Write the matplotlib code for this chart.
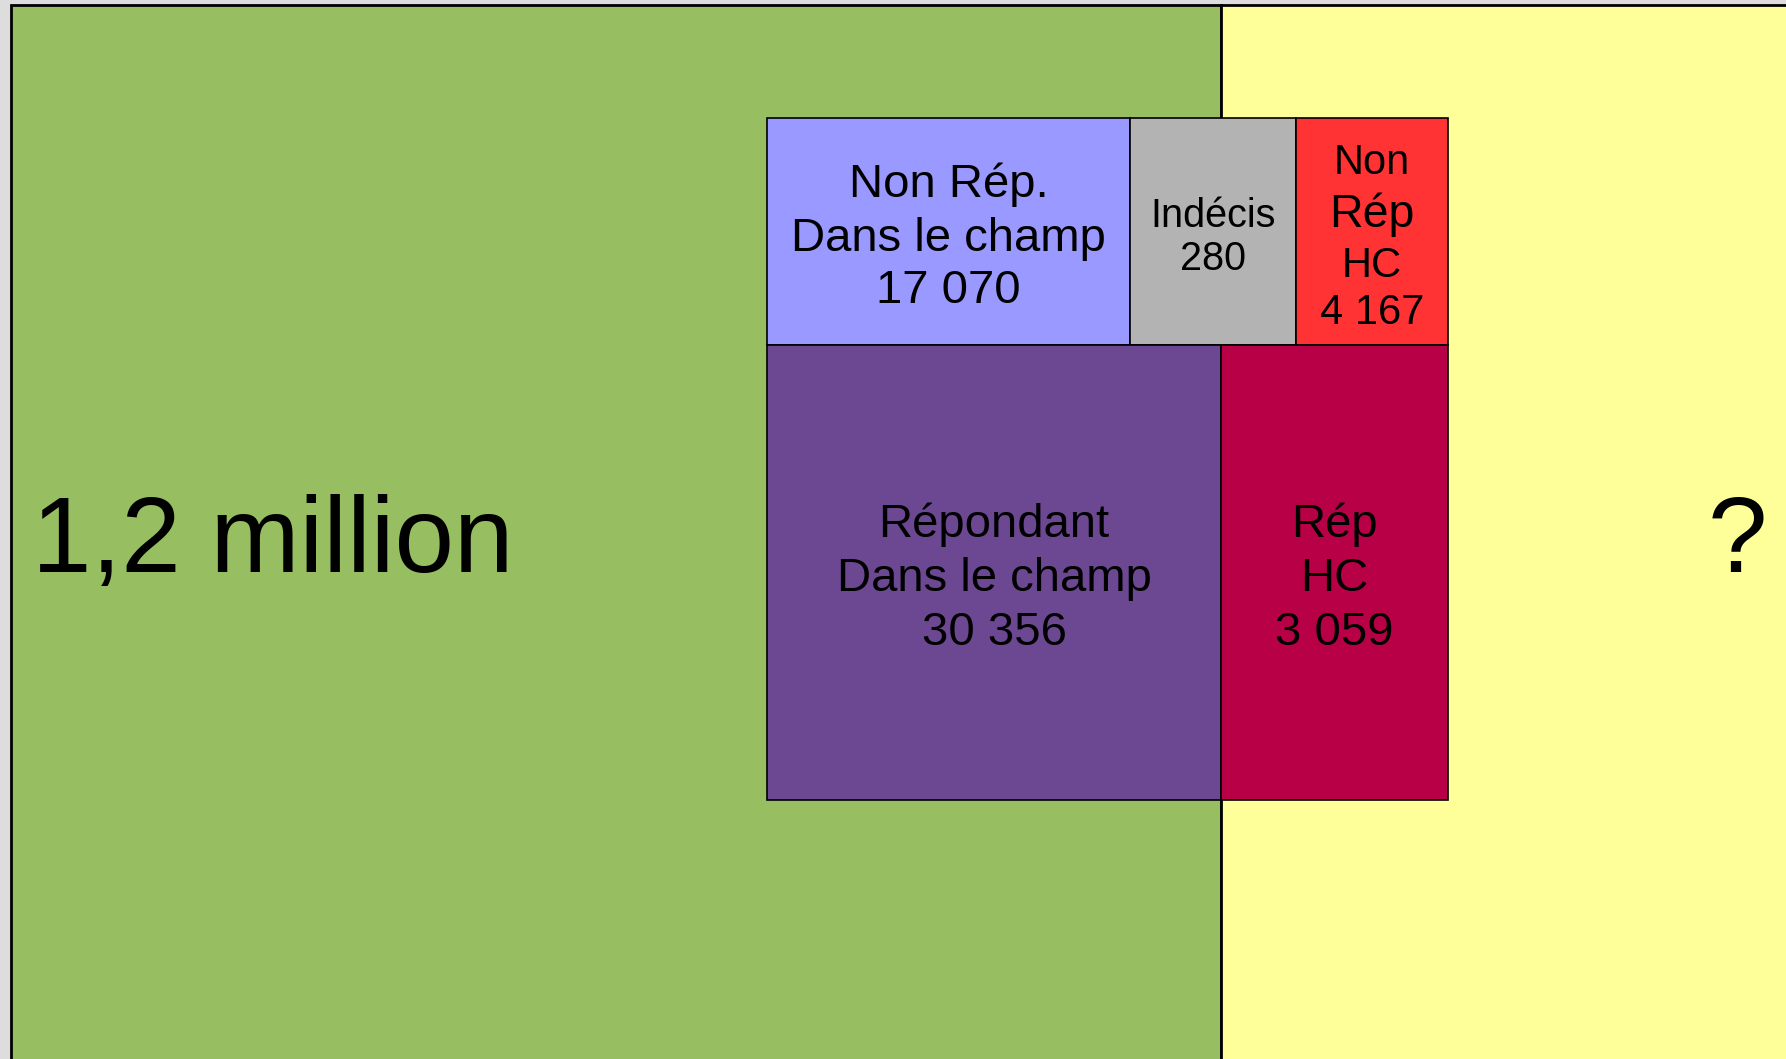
import matplotlib.pyplot as plt
from matplotlib.patches import Rectangle

plt.rcParams['font.family'] = ['Liberation Sans', 'DejaVu Sans']

# data
outer_labels = ["1,2 million", "?"]
box_labels = [["Non Rép.", "Dans le champ"], ["Indécis"], ["Non", "Rép", "HC"],
              ["Répondant", "Dans le champ"], ["Rép", "HC"]]
box_counts = [17070, 280, 4167, 30356, 3059]
box_colors = ["#9999ff", "#b3b3b3", "#ff3333", "#6c4792", "#b80047"]


def fmt(n):
    return f"{n:,}".replace(",", " ")


# layout in pixels (y from top)
W, H = 1786, 1059
fig = plt.figure(figsize=(W / 100, H / 100), dpi=100)
fig.patch.set_facecolor("#dddddd")
ax = fig.add_axes([0, 0, 1, 1])
ax.set_xlim(0, W)
ax.set_ylim(H, 0)
ax.axis("off")

# outer zones
ax.add_patch(Rectangle((11, 5), 1221 - 11, H + 10, facecolor="#97be60", edgecolor="black", lw=2))
ax.add_patch(Rectangle((1221, 5), W + 10 - 1221, H + 10, facecolor="#ffff99", edgecolor="black", lw=2))
ax.text(32, 572, outer_labels[0], fontsize=77, ha="left", va="baseline")
ax.text(1737, 572, outer_labels[1], fontsize=77, ha="center", va="baseline")

# inner boxes: (x0, y0, x1, y1)
boxes = [(767, 118, 1130, 345), (1130, 118, 1296, 345), (1296, 118, 1448, 345),
         (767, 345, 1221, 800), (1221, 345, 1448, 800)]
sizes = [[34, 34, 34], [28.5, 28.5], [30, 33.5, 30, 30], [34, 34, 34], [34, 34, 34]]
baselines = [[197, 251, 303], [227, 270], [174, 227, 277, 324],
             [537, 591, 645], [537, 591, 645]]

for (x0, y0, x1, y1), lab, cnt, col, fs, bl in zip(boxes, box_labels, box_counts,
                                                    box_colors, sizes, baselines):
    ax.add_patch(Rectangle((x0, y0), x1 - x0, y1 - y0, facecolor=col,
                           edgecolor="black", lw=1.2))
    lines = lab + [fmt(cnt)]
    for line, s, y in zip(lines, fs, bl):
        ax.text((x0 + x1) / 2, y, line, fontsize=s, ha="center", va="baseline")

fig.savefig("out.png", dpi=100, facecolor=fig.get_facecolor())
